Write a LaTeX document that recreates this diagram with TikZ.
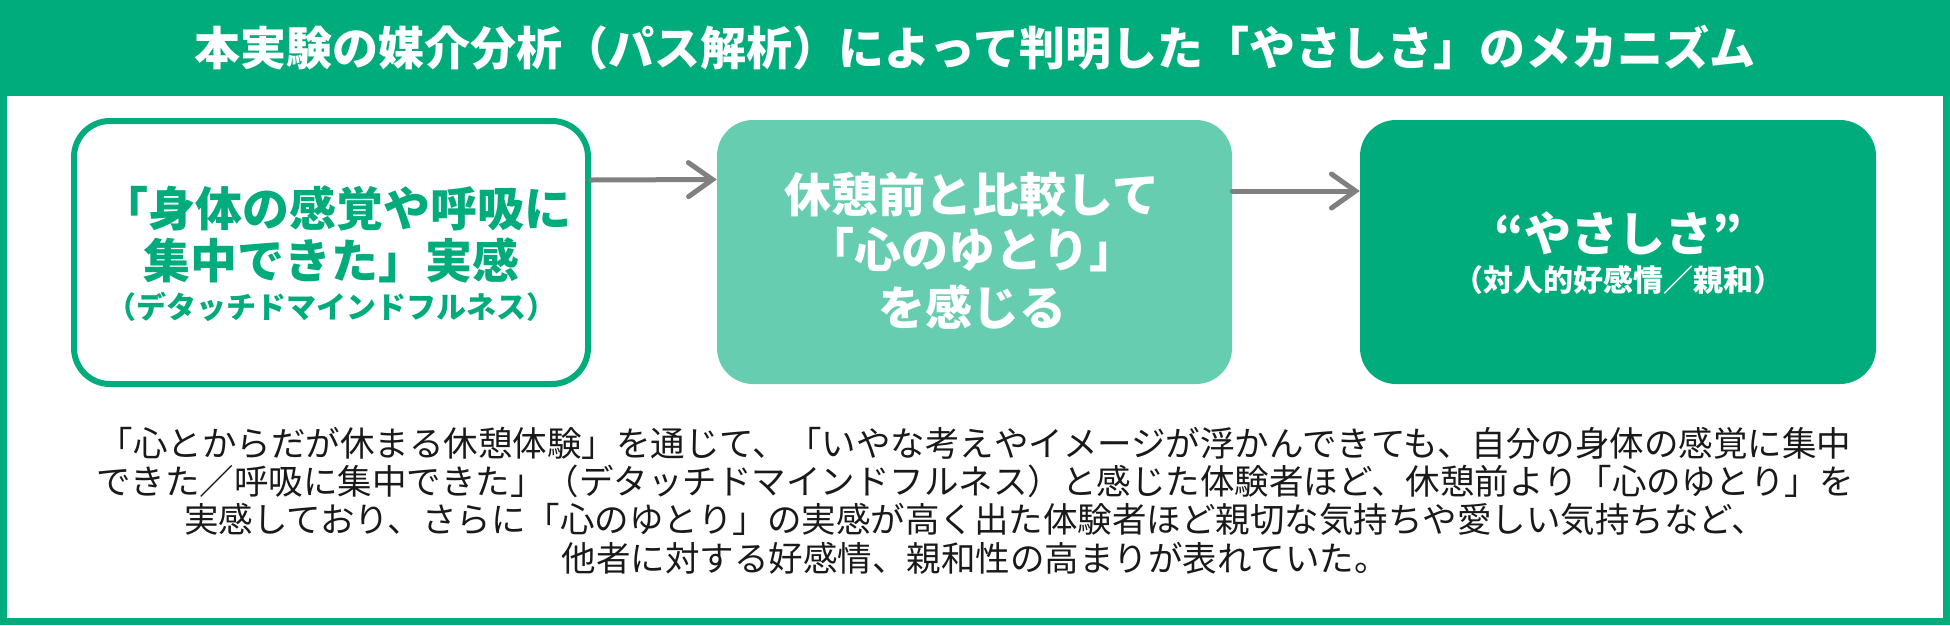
\documentclass[tikz,border=0pt]{standalone}
\usepackage{fontspec}
\setmainfont{Noto Sans CJK JP}
\usetikzlibrary{arrows.meta}
\definecolor{hdr}{RGB}{0,172,124}
\definecolor{lightg}{RGB}{102,205,176}
\definecolor{arr}{RGB}{128,128,128}
\definecolor{txt}{RGB}{25,25,25}
\begin{document}
\begin{tikzpicture}[x=1pt,y=-1pt,
  box/.style={rounded corners=36pt, inner sep=0pt},
  boxa/.style={box, draw=hdr, line width=6pt, fill=white},
  boxb/.style={box, fill=lightg},
  boxc/.style={box, fill=hdr},
  big/.style={font=\bfseries\fontsize{47}{52}\selectfont, inner sep=0pt},
  small/.style={font=\bfseries\fontsize{30}{34}\selectfont, inner sep=0pt},
  conn/.style={draw=arr, line width=5pt, line cap=round, -{Straight Barb[length=24pt,width=34pt,line cap=round]}},
  para/.style={font=\fontsize{34.5}{38.3}\selectfont, align=center, text=txt, inner sep=0pt}]
\useasboundingbox (0,0) rectangle (1950,625);
\fill[hdr] (0,0) rectangle (1950,625);
\fill[white] (7,96) rectangle (1943,618);
\node[font=\bfseries\fontsize{46}{50}\selectfont, text=white, inner sep=0pt] (title) at (975,48)
  {本実験の媒介分析（パス解析）によって判明した「やさしさ」のメカニズム};
% boxes
\node[boxa, minimum width=514pt, minimum height=263pt] (b1) at (331,252.5) {};
\node[boxb, minimum width=515pt, minimum height=264pt] (b2) at (974.5,252) {};
\node[boxc, minimum width=516pt, minimum height=264pt] (b3) at (1618,252) {};
% box 1 text
\node[big, text=hdr] (b1a) at (336,208) {「身体の感覚や呼吸に};
\node[big, text=hdr] (b1b) at (331,260) {集中できた」実感};
\node[small, text=hdr] (b1c) at (331,307) {（デタッチドマインドフルネス）};
% box 2 text
\node[big, text=white] (b2a) at (972,195) {休憩前と比較して};
\node[big, text=white] (b2b) at (972,250) {「心のゆとり」};
\node[big, text=white] (b2c) at (972,307) {を感じる};
% box 3 text
\node[big, text=white] (b3a) at (1618,233) {“やさしさ”};
\node[small, text=white] (b3b) at (1618,280) {（対人的好感情／親和）};
% connectors
\draw[conn] ([yshift=72.5pt]b1.east) -- ([yshift=72.5pt]b2.west);
\draw[conn] ([yshift=61pt]b2.east) -- ([yshift=61pt]b3.west);
% paragraph
\node[para] (desc) at (975,500.5) {「心とからだが休まる休憩体験」を通じて、「いやな考えやイメージが浮かんできても、自分の身体の感覚に集中\\
できた／呼吸に集中できた」（デタッチドマインドフルネス）と感じた体験者ほど、休憩前より「心のゆとり」を\\
実感しており、さらに「心のゆとり」の実感が高く出た体験者ほど親切な気持ちや愛しい気持ちなど、\\
他者に対する好感情、親和性の高まりが表れていた。};
\end{tikzpicture}
\end{document}
